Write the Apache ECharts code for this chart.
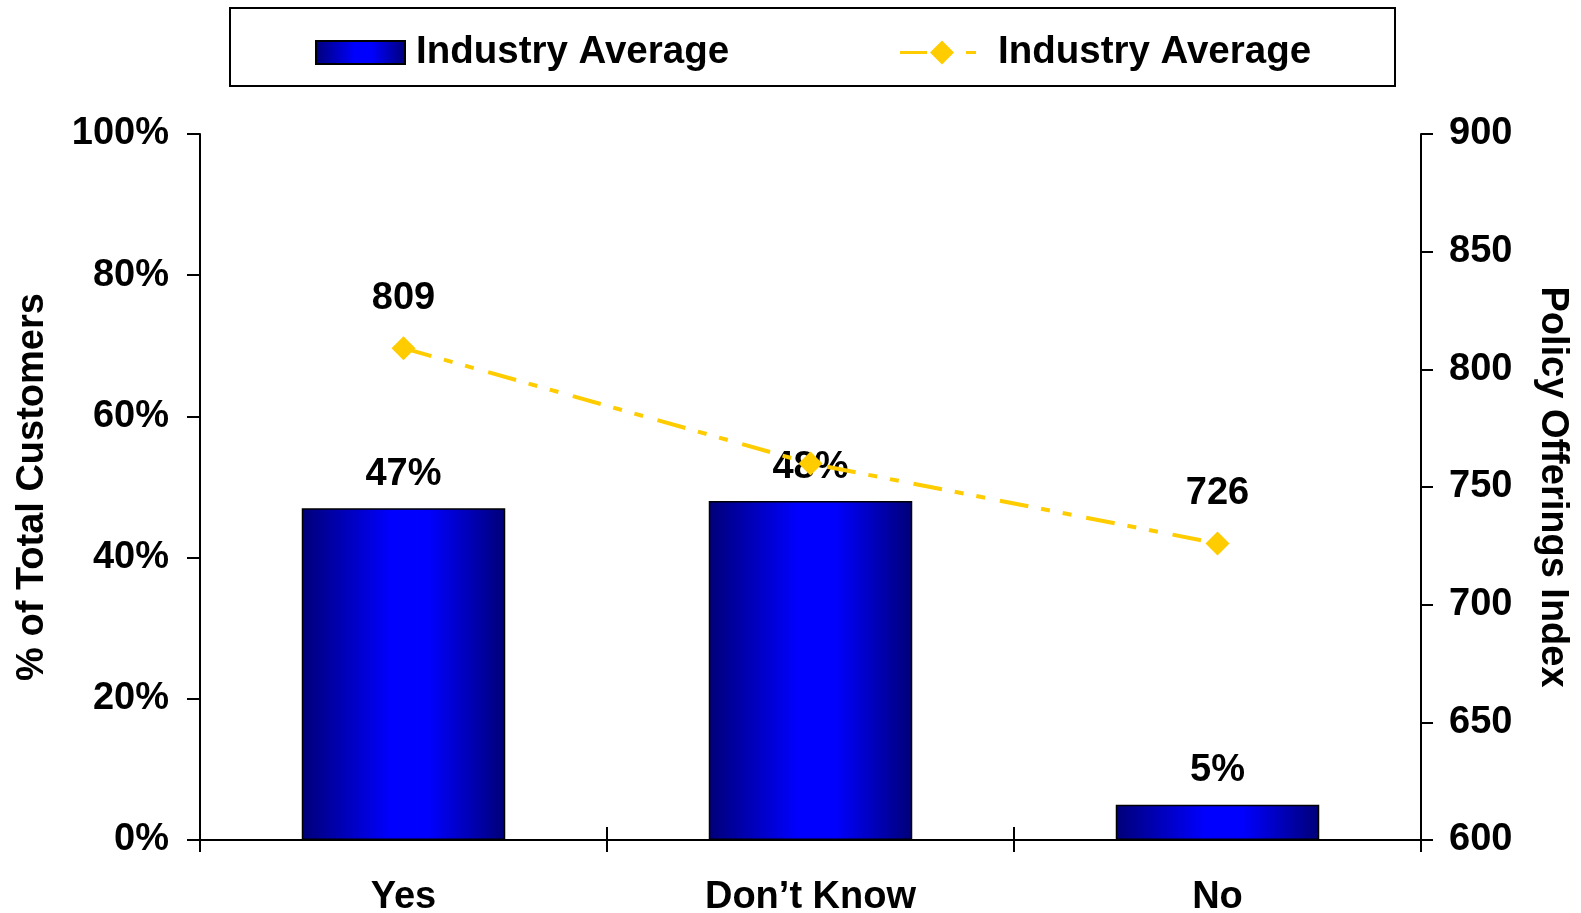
<!DOCTYPE html>
<html>
<head>
<meta charset="utf-8">
<script src="https://cdn.jsdelivr.net/npm/echarts@6/dist/echarts.min.js"></script>
<style>
html,body{margin:0;padding:0;background:#fff;}
#c{width:1581px;height:913px;}
</style>
</head>
<body>
<div id="c"></div>
<script>
const categories = ['Yes', 'Don\u2019t Know', 'No'];
const barValues = [47, 48, 5];
const lineValues = [809, 760, 726];
const lineLabelShown = [true, false, true];
const barSeriesName = 'Industry Average';
const lineSeriesName = 'Industry Average ';
const leftAxisName = '% of Total Customers';
const rightAxisName = 'Policy Offerings Index';

const FONT = '"Liberation Sans", Arial, sans-serif';
const FS = 38;
const chart = echarts.init(document.getElementById('c'), null, {renderer: 'canvas'});

const txt = {fontFamily: FONT, fontWeight: 'bold', fontSize: FS, color: '#000'};
const legendTxt = Object.assign({}, txt, {fontSize: 38.5});
const legendIconLine = 'path://M0 10.5 L27 10.5 L27 13.5 L0 13.5 Z M30 12 L42 0 L54 12 L42 24 Z M66 10.5 L76 10.5 L76 13.5 L66 13.5 Z';

chart.setOption({
  animation: false,
  backgroundColor: '#fff',
  grid: {left: 200, right: 160, top: 134, bottom: 73, containLabel: false, outerBoundsMode: 'none'},
  graphic: [{
    type: 'rect',
    shape: {x: 230, y: 8, width: 1165, height: 78},
    style: {fill: 'none', stroke: '#000', lineWidth: 2},
    z: -1
  }],
  legend: [{
    left: 315,
    top: 33,
    itemWidth: 89,
    itemHeight: 23,
    padding: 0,
    icon: 'rect',
    formatter: n => n.trim(),
    textStyle: Object.assign({}, legendTxt, {padding: [0, 0, 0, 6]}),
    data: [barSeriesName]
  }, {
    left: 900,
    top: 33,
    itemWidth: 76,
    itemHeight: 24,
    padding: 0,
    icon: legendIconLine,
    itemStyle: {color: '#ffcc00', borderWidth: 0},
    formatter: n => n.trim(),
    textStyle: Object.assign({}, legendTxt, {padding: [0, 0, 0, 17]}),
    data: [lineSeriesName]
  }],
  xAxis: [{
    type: 'category',
    data: categories,
    position: 'bottom',
    axisLine: {lineStyle: {color: '#000', width: 2}},
    axisTick: {show: true, inside: false, length: 12, lineStyle: {color: '#000', width: 2}},
    axisLabel: Object.assign({}, txt, {margin: 39}),
    splitLine: {show: false}
  }, {
    type: 'category',
    data: categories,
    position: 'bottom',
    axisLine: {show: false},
    axisTick: {show: true, inside: true, length: 13, lineStyle: {color: '#000', width: 2}},
    axisLabel: {show: false},
    splitLine: {show: false}
  }],
  yAxis: [{
    type: 'value',
    min: 0, max: 100, interval: 20,
    position: 'left',
    name: leftAxisName,
    nameLocation: 'middle',
    nameGap: 148,
    nameRotate: 90,
    nameTextStyle: txt,
    axisLine: {show: true, lineStyle: {color: '#000', width: 2}},
    axisTick: {show: true, inside: false, length: 13, lineStyle: {color: '#000', width: 2}},
    axisLabel: Object.assign({}, txt, {margin: 31, formatter: '{value}%'}),
    splitLine: {show: false}
  }, {
    type: 'value',
    min: 600, max: 900, interval: 50,
    position: 'right',
    name: rightAxisName,
    nameLocation: 'middle',
    nameGap: 112,
    nameRotate: -90,
    nameTextStyle: txt,
    axisLine: {show: true, lineStyle: {color: '#000', width: 2}},
    axisTick: {show: true, inside: false, length: 12, lineStyle: {color: '#000', width: 2}},
    axisLabel: Object.assign({}, txt, {margin: 28}),
    splitLine: {show: false}
  }],
  series: [{
    name: barSeriesName,
    type: 'bar',
    xAxisIndex: 0,
    yAxisIndex: 0,
    barWidth: '50%',
    data: barValues,
    itemStyle: {
      color: new echarts.graphic.LinearGradient(0, 0, 1, 0, [
        {offset: 0, color: '#000078'},
        {offset: 0.44, color: '#0000ff'},
        {offset: 0.62, color: '#0000ff'},
        {offset: 1, color: '#000078'}
      ]),
      borderColor: '#000',
      borderWidth: 1.5
    },
    label: Object.assign({show: true, position: 'top', distance: 15, formatter: '{c}%'}, txt),
    z: 2
  }, {
    name: lineSeriesName,
    type: 'line',
    xAxisIndex: 0,
    yAxisIndex: 1,
    data: lineValues.map((v, i) => ({value: v, label: {show: lineLabelShown[i]}})),
    symbol: 'diamond',
    symbolSize: 24,
    itemStyle: {color: '#ffcc00'},
    lineStyle: {color: '#ffcc00', width: 4, type: [29, 13, 9, 13, 9, 15]},
    label: Object.assign({show: true, position: 'top', distance: 19}, txt),
    z: 3
  }]
});
</script>
</body>
</html>
